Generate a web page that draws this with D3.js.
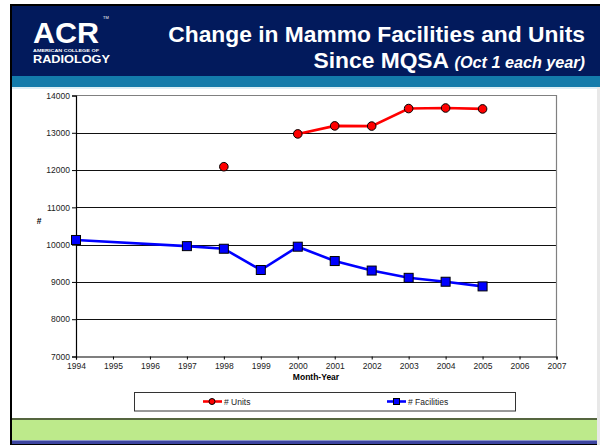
<!DOCTYPE html>
<html>
<head>
<meta charset="utf-8">
<script src="https://cdn.jsdelivr.net/npm/d3@7"></script>
<style>
  html, body { margin: 0; padding: 0; background: #fff; }
  svg { display: block; font-family: "Liberation Sans", Arial, sans-serif; }
</style>
</head>
<body>
<svg id="slide" width="600" height="445"></svg>
<script>
// data
const unitYears     = [1998, 1999, 2000, 2001, 2002, 2003, 2004, 2005];
const units         = [12090, null, 12970, 13185, 13180, 13650, 13665, 13640];
const facilityYears = [1994, 1997, 1998, 1999, 2000, 2001, 2002, 2003, 2004, 2005];
const facilities    = [10125, 9960, 9890, 9320, 9945, 9560, 9305, 9110, 9005, 8880];
const yearTicks     = d3.range(1994, 2008);
const countTicks    = d3.range(7000, 14001, 1000);

const svg = d3.select("#slide");

/*
 * slide background - frame, header band, footer band
 */
svg.append("rect").attr("x", 10).attr("y", 4).attr("width", 590).attr("height", 441).attr("fill", "#000");
svg.append("rect").attr("x", 12).attr("y", 6).attr("width", 588).attr("height", 71).attr("fill", "#021a5c");
svg.append("rect").attr("x", 12).attr("y", 76).attr("width", 588).attr("height", 11).attr("fill", "#137bab");
svg.append("rect").attr("x", 12).attr("y", 87).attr("width", 585).attr("height", 2).attr("fill", "#dbeef6");
svg.append("rect").attr("x", 12).attr("y", 89).attr("width", 585).attr("height", 329).attr("fill", "#fff");
svg.append("rect").attr("x", 597).attr("y", 87).attr("width", 3).attr("height", 358).attr("fill", "#e8e8e8");
svg.append("rect").attr("x", 12).attr("y", 418).attr("width", 585).attr("height", 2).attr("fill", "#55663f");
svg.append("rect").attr("x", 12).attr("y", 420).attr("width", 585).attr("height", 20).attr("fill", "#bdea8b");
svg.append("rect").attr("x", 12).attr("y", 440).attr("width", 585).attr("height", 1).attr("fill", "#8a94c8");
svg.append("rect").attr("x", 12).attr("y", 441).attr("width", 585).attr("height", 3).attr("fill", "#3d45a0");

// logo
const logo = svg.append("g").attr("fill", "#fff");
logo.append("text").attr("x", 33).attr("y", 42.5).attr("font-size", 30).attr("font-weight", "bold")
  .attr("textLength", 66).attr("lengthAdjust", "spacingAndGlyphs").text("ACR");
logo.append("text").attr("x", 103).attr("y", 19).attr("font-size", 4).text("TM");
logo.append("text").attr("x", 33).attr("y", 52.3).attr("font-size", 3.8).attr("font-weight", "bold")
  .attr("textLength", 66).attr("lengthAdjust", "spacingAndGlyphs").text("AMERICAN COLLEGE OF");
logo.append("text").attr("x", 33).attr("y", 63.3).attr("font-size", 11).attr("font-weight", "bold")
  .attr("textLength", 77).attr("lengthAdjust", "spacingAndGlyphs").text("RADIOLOGY");

// title
svg.append("text").attr("x", 585).attr("y", 41.5).attr("text-anchor", "end")
  .attr("font-size", 22.8).attr("font-weight", "bold").attr("fill", "#fff")
  .text("Change in Mammo Facilities and Units");
const sub = svg.append("text").attr("x", 585).attr("y", 68).attr("text-anchor", "end")
  .attr("font-weight", "bold").attr("fill", "#fff");
sub.append("tspan").attr("font-size", 22.8).text("Since MQSA ");
sub.append("tspan").attr("font-size", 16.2).attr("font-style", "italic").text("(Oct 1 each year)");

/*
 * chart
 */
const plot = {left: 76, right: 556.5, top: 95.5, bottom: 356.5};
const x = d3.scaleLinear().domain([1994, 2007]).range([plot.left, plot.right]);
const y = d3.scaleLinear().domain([7000, 14000]).range([plot.bottom, plot.top]);

const chart = svg.append("g");

// gridlines
chart.append("g").selectAll("line")
  .data(countTicks.filter(d => d > 7000 && d < 14000))
  .join("line")
  .attr("x1", plot.left).attr("x2", plot.right)
  .attr("y1", d => Math.round(y(d)) + 0.5).attr("y2", d => Math.round(y(d)) + 0.5)
  .attr("stroke", "#111").attr("stroke-width", 1);

// frame top/right
chart.append("path")
  .attr("d", `M${plot.left},${plot.top}H${plot.right}V${plot.bottom}`)
  .attr("fill", "none").attr("stroke", "#808080").attr("stroke-width", 1.2);

const yAxis = chart.append("g").attr("transform", `translate(${plot.left},0)`)
  .call(d3.axisLeft(y).tickValues(countTicks).tickFormat(d3.format("d")).tickSize(4).tickPadding(2));
const xAxis = chart.append("g").attr("transform", `translate(0,${plot.bottom})`)
  .call(d3.axisBottom(x).tickValues(yearTicks).tickFormat(d3.format("d")).tickSize(3).tickPadding(3));
[yAxis, xAxis].forEach(function(a){
  a.select(".domain").attr("stroke", "#000").attr("stroke-width", 1.2);
  a.selectAll(".tick line").attr("stroke", "#000");
  a.selectAll(".tick text").attr("font-size", 8.5).attr("fill", "#222")
    .attr("font-family", "'Liberation Sans', Arial, sans-serif");
});

// axis titles
svg.append("text").attr("x", 39).attr("y", 224).attr("text-anchor", "middle")
  .attr("font-size", 8.5).attr("font-weight", "bold").text("#");
svg.append("text").attr("x", 316).attr("y", 380).attr("text-anchor", "middle")
  .attr("font-size", 8.5).attr("font-weight", "bold").text("Month-Year");

// series
const unitPts = unitYears.map((yr, i) => ({x: yr, v: units[i]}));
const facPts  = facilityYears.map((yr, i) => ({x: yr, v: facilities[i]}));
const line = d3.line().defined(d => d.v != null).x(d => x(d.x)).y(d => y(d.v));

chart.append("path").datum(facPts).attr("d", line)
  .attr("fill", "none").attr("stroke", "#0000ff").attr("stroke-width", 2.6);
chart.append("path").datum(unitPts).attr("d", line)
  .attr("fill", "none").attr("stroke", "#ff0000").attr("stroke-width", 2.6);

chart.append("g").selectAll("rect").data(facPts).join("rect")
  .attr("x", d => x(d.x) - 4.5).attr("y", d => y(d.v) - 4.5)
  .attr("width", 9).attr("height", 9)
  .attr("fill", "#0000ff").attr("stroke", "#000").attr("stroke-width", 1);
chart.append("g").selectAll("circle").data(unitPts.filter(d => d.v != null)).join("circle")
  .attr("cx", d => x(d.x)).attr("cy", d => y(d.v)).attr("r", 4.3)
  .attr("fill", "#ff0000").attr("stroke", "#000").attr("stroke-width", 1);

/*
 * legend
 */
const legend = svg.append("g");
legend.append("rect").attr("x", 134.5).attr("y", 392.5).attr("width", 381).attr("height", 18.5)
  .attr("fill", "#fff").attr("stroke", "#333").attr("stroke-width", 1);
const legendItems = [
  {label: "# Units", color: "#ff0000", shape: "circle", x0: 203},
  {label: "# Facilities", color: "#0000ff", shape: "square", x0: 387}
];
legendItems.forEach(function(it){
  const cy = 401.5;
  legend.append("line").attr("x1", it.x0).attr("x2", it.x0 + 19).attr("y1", cy).attr("y2", cy)
    .attr("stroke", it.color).attr("stroke-width", 2.6);
  if (it.shape === "circle")
    legend.append("circle").attr("cx", it.x0 + 9).attr("cy", cy).attr("r", 3)
      .attr("fill", it.color).attr("stroke", "#000").attr("stroke-width", 1);
  else
    legend.append("rect").attr("x", it.x0 + 6.5).attr("y", cy - 3).attr("width", 6).attr("height", 6)
      .attr("fill", it.color).attr("stroke", "#000").attr("stroke-width", 1);
  legend.append("text").attr("x", it.x0 + 21).attr("y", cy + 3).attr("font-size", 8.5)
    .attr("fill", "#222").text(it.label);
});
</script>
</body>
</html>
